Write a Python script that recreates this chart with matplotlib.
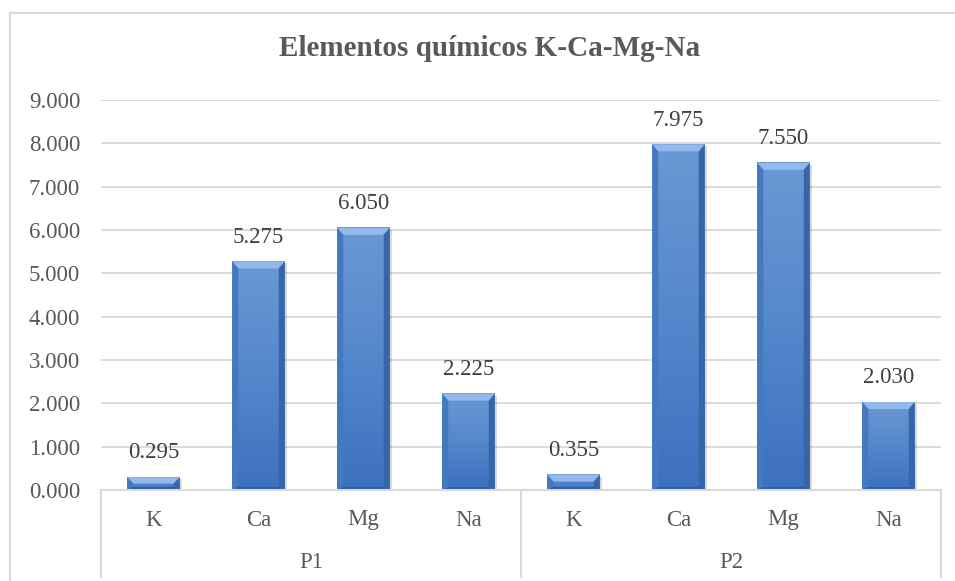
import matplotlib
matplotlib.use("Agg")
import matplotlib.pyplot as plt
import numpy as np
from matplotlib.colors import LinearSegmentedColormap
from matplotlib.patches import Polygon, Rectangle
from matplotlib.lines import Line2D

plt.rcParams['font.family'] = ['Liberation Serif', 'DejaVu Serif']

groups = ["P1", "P2"]
elements = ["K", "Ca", "Mg", "Na"]
p1_values = [0.295, 5.275, 6.050, 2.225]
p2_values = [0.355, 7.975, 7.550, 2.030]
y_ticks = [0, 1, 2, 3, 4, 5, 6, 7, 8, 9]

values = p1_values + p2_values
labels = elements * len(groups)
x = list(range(len(values)))

W, H = 955, 581
fig = plt.figure(figsize=(W / 100, H / 100), dpi=100)
ax = fig.add_axes([101 / W, 1 - 490 / H, 840 / W, 390 / H])

grid_c = "#d9d9d9"
text_c = "#595959"

bars = ax.bar(x, values, width=0.5, color="#4b7fc0", zorder=3)

ax.set_xlim(-0.5, len(values) - 0.5)
ax.set_ylim(0, 9)
ax.set_yticks(y_ticks)
ax.set_yticklabels([f"{v:.3f}" for v in y_ticks])
ax.tick_params(axis="y", length=0, pad=15, labelsize=16.5, labelcolor=text_c)
ax.set_xticks([])
ax.grid(axis="y", color=grid_c, lw=1.3, zorder=0)
for s in ax.spines.values():
    s.set_visible(False)

body = LinearSegmentedColormap.from_list("body", ["#3c71bf", "#5487cc", "#6a98d4"])
grad = np.linspace(0, 1, 64).reshape(-1, 1)

# bevel on every bar: light top, darker sides and base, soft shadow
px_x = 1 / 105.0
px_y = 9 / 390.0
for b, v in zip(bars, values):
    x0 = b.get_x()
    w = b.get_width()
    x1 = x0 + w
    b.set_visible(False)
    ax.add_patch(Rectangle((x0 + 2 * px_x, 0), w, v - 2 * px_y, color="#000000",
                           alpha=0.15, lw=0, zorder=2))
    bx = 6 * px_x
    by = min(7 * px_y, v / 2)
    bb = min(3 * px_y, v / 4)
    ax.imshow(grad, cmap=body, origin="lower", aspect="auto", zorder=3.5,
              extent=(x0, x1, 0, v), interpolation="bilinear")
    ax.add_patch(Polygon([(x0, v), (x1, v), (x1 - bx, v - by), (x0 + bx, v - by)],
                         closed=True, color="#93b9ea", lw=0, zorder=4))
    ax.add_patch(Polygon([(x0, 0), (x0, v), (x0 + bx, v - by), (x0 + bx, bb)],
                         closed=True, color="#4478bf", lw=0, zorder=4))
    ax.add_patch(Polygon([(x1, 0), (x1, v), (x1 - bx, v - by), (x1 - bx, bb)],
                         closed=True, color="#3666a8", lw=0, zorder=4))
    ax.add_patch(Polygon([(x0, 0), (x1, 0), (x1 - bx, bb), (x0 + bx, bb)],
                         closed=True, color="#2f5e9e", lw=0, zorder=4))
    ax.annotate(f"{v:.3f}", (b.get_x() + w / 2, v), xytext=(0, 17.5),
                textcoords="offset points", ha="center", va="center",
                fontsize=16.5, color="#404040", zorder=5)

# two-level category axis
trans = ax.get_xaxis_transform()
ax.plot([-0.5, len(values) - 0.5], [0, 0], color=grid_c, lw=1.5, zorder=6,
        clip_on=False)
for pos in [-0.5, 3.5, 7.5]:
    ax.plot([pos, pos], [0, -87 / 390], transform=trans, color=grid_c, lw=1.5,
            clip_on=False)
for xi, lab in zip(x, labels):
    ax.text(xi, -30 / 390, lab, transform=trans, ha="center", va="center",
            fontsize=16.5, color=text_c)
for gi, g in enumerate(groups):
    ax.text(gi * 4 + 1.5, -73 / 390, g, transform=trans, ha="center", va="center",
            fontsize=16.5, color=text_c)

fig.text(490 / W, 1 - 49 / H, "Elementos químicos K-Ca-Mg-Na", ha="center",
         va="center", fontsize=21, fontweight="bold", color=text_c)

fig.add_artist(Line2D([9.5 / W, 9.5 / W], [0, 1 - 12.5 / H], color=grid_c, lw=1.5))
fig.add_artist(Line2D([9.5 / W, 1], [1 - 12.5 / H, 1 - 12.5 / H], color=grid_c, lw=1.5))

fig.savefig("out.png", dpi=100)
